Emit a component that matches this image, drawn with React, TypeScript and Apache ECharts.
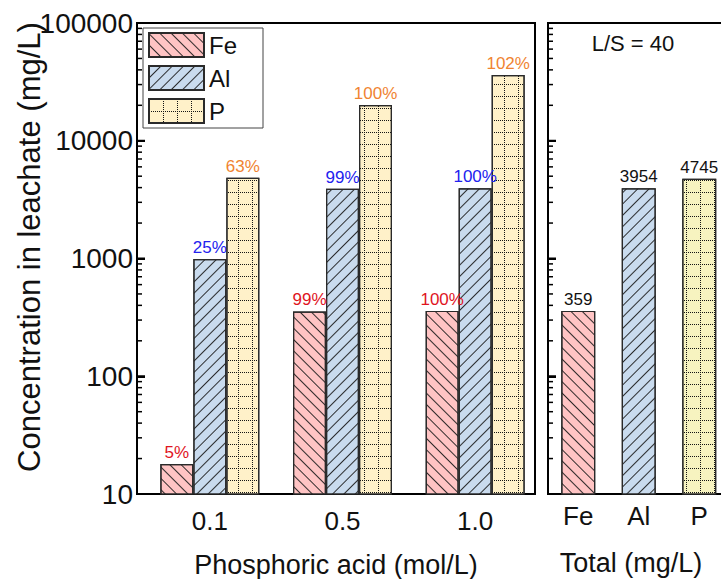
import React, { useEffect, useRef } from 'react';
import * as echarts from 'echarts';

// ---- data ----
const categories = ['0.1', '0.5', '1.0'];
const feValues = [18, 355, 359];
const alValues = [990, 3914, 3954];
const pValues = [4850, 20100, 36100];
const fePct = ['5%', '99%', '100%'];
const alPct = ['25%', '99%', '100%'];
const pPct = ['63%', '100%', '102%'];
const totalCategories = ['Fe', 'Al', 'P'];
const totalValues = [359, 3954, 4745];
const yMin = 10;
const yMax = 100000;
const majorTickValues = [10, 100, 1000, 10000, 100000];
const minorTickValues: number[] = [];
for (let d = 10; d < 100000; d *= 10) {
  for (let k = 2; k <= 9; k++) minorTickValues.push(k * d);
}

const FONT = '"Liberation Sans", Arial, Helvetica, sans-serif';

const feColor = '#FFC4C4';
const alColor = '#C9DBEE';
const pColor = '#FFF1C9';
const pTotalColor = '#F7F3C0';
const hatchColor = 'rgba(25,25,25,0.9)';

const feDecal = {
  symbol: 'rect', symbolSize: 1, color: hatchColor,
  dashArrayX: [1, 0], dashArrayY: [1, 7], rotation: Math.PI / 4,
};
const alDecal = {
  symbol: 'rect', symbolSize: 1, color: hatchColor,
  dashArrayX: [1, 0], dashArrayY: [1, 7], rotation: -Math.PI / 4,
};
const pDecal = {
  symbol: 'rect', symbolSize: 1, color: 'rgba(20,20,20,1)',
  dashArrayX: [[1, 1], [1, 13], [1, 13], [1, 13], [1, 13], [1, 13]],
  dashArrayY: [1, 1, 1, 1, 1, 1, 1, 1, 1, 1, 1, 1],
  rotation: 0,
};

const LEFT_BOX = { left: 137, top: 23, width: 398, height: 471 };
const RIGHT_BOX = { left: 548, top: 23, width: 181.5, height: 471 };

export default function App() {
  const ref = useRef<HTMLDivElement>(null);
  useEffect(() => {
    document.body.style.margin = '0';
    if (!ref.current) return;
    const chart = echarts.init(ref.current, undefined, { renderer: 'svg' });

    const border = { borderColor: '#2a2a2a', borderWidth: 1.2 };
    const mk = (name: string, data: number[], pct: string[], color: string, decal: any, labelColor: string) => ({
      type: 'bar', name, xAxisIndex: 1, yAxisIndex: 1, data,
      barWidth: 33, barGap: '0%',
      itemStyle: { color, decal, ...border },
      label: {
        show: true, position: 'top', distance: 3,
        formatter: (p: any) => pct[p.dataIndex],
        color: labelColor, fontSize: 17, fontFamily: FONT,
      },
    });

    // inward ticks of a log axis (major and minor), drawn through the axis' own scale
    const tickSeries = (xAxisIndex: number, yAxisIndex: number) => ({
      type: 'custom', name: 'ticks' + yAxisIndex, xAxisIndex, yAxisIndex,
      silent: true, clip: false, z: 10,
      data: [
        ...majorTickValues.map((v) => [0, v, 8]),
        ...minorTickValues.map((v) => [0, v, 5]),
      ],
      renderItem: (params: any, api: any) => {
        const pt = api.coord([0, api.value(1)]);
        const len = api.value(2);
        const x0 = params.coordSys.x;
        return {
          type: 'rect', z2: 100,
          shape: { x: x0, y: pt[1] - (len > 6 ? 1 : 0.75), width: len, height: len > 6 ? 2 : 1.5 },
          style: { fill: '#000' },
        };
      },
      tooltip: { show: false },
    });

    const logBase = { type: 'log', logBase: 10, min: yMin, max: yMax, splitLine: { show: false }, position: 'left' };
    const gb = { outerBoundsMode: 'none', containLabel: false };

    chart.setOption({
      animation: false,
      backgroundColor: '#fff',
      textStyle: { fontFamily: FONT },
      grid: [
        { ...LEFT_BOX, ...gb, show: true, borderColor: '#000', borderWidth: 2, backgroundColor: 'transparent' },
        { left: 143.5, top: 23, width: 398, height: 471, ...gb },
        { ...RIGHT_BOX, ...gb, show: true, borderColor: '#000', borderWidth: 2, backgroundColor: 'transparent' },
      ],
      xAxis: [
        {
          gridIndex: 0, type: 'category', data: categories,
          axisLine: { show: true, lineStyle: { color: '#000', width: 2 } },
          axisTick: { show: false }, axisLabel: { show: false },
          name: 'Phosphoric acid (mol/L)', nameLocation: 'middle', nameGap: 57,
          nameTextStyle: { fontSize: 27, color: '#111', fontFamily: FONT },
        },
        {
          gridIndex: 1, type: 'category', data: categories,
          axisLine: { show: false }, axisTick: { show: false },
          axisLabel: { fontSize: 26, color: '#111', margin: 14, fontFamily: FONT },
        },
        {
          gridIndex: 2, type: 'category', data: totalCategories,
          axisLine: { show: true, lineStyle: { color: '#000', width: 2 } },
          axisTick: { show: false },
          axisLabel: { fontSize: 26, color: '#111', margin: 9, fontFamily: FONT },
        },
      ],
      yAxis: [
        {
          ...logBase, gridIndex: 0,
          axisLine: { show: true, lineStyle: { color: '#000', width: 2 } },
          axisTick: { show: true, inside: true, length: 8, lineStyle: { color: '#000', width: 2 } },
          axisLabel: { fontSize: 28, color: '#111', margin: 4, fontFamily: FONT, formatter: (v: number) => String(Math.round(v)) },
        },
        { ...logBase, gridIndex: 1, show: false },
        {
          ...logBase, gridIndex: 2,
          axisLine: { show: true, lineStyle: { color: '#000', width: 2 } },
          axisTick: { show: true, inside: true, length: 8, lineStyle: { color: '#000', width: 2 } },
          axisLabel: { show: false },
        },
      ],
      legend: {
        data: ['Fe', 'Al', 'P'], orient: 'vertical', left: 143, top: 28,
        itemWidth: 55, itemHeight: 24, itemGap: 7, icon: 'rect',
        padding: [4, 26, 4, 5], borderColor: '#444', borderWidth: 1, backgroundColor: '#fff',
        textStyle: { fontSize: 24, color: '#111', fontFamily: FONT },
      },
      series: [
        mk('Fe', feValues, fePct, feColor, feDecal, '#E0141E'),
        mk('Al', alValues, alPct, alColor, alDecal, '#2222EE'),
        mk('P', pValues, pPct, pColor, pDecal, '#F08432'),
        {
          type: 'bar', name: 'Total', xAxisIndex: 2, yAxisIndex: 2, barWidth: 34,
          data: totalValues.map((v, i) => ({
            value: v,
            itemStyle: {
              color: [feColor, alColor, pTotalColor][i],
              decal: [feDecal, alDecal, pDecal][i],
            },
          })),
          itemStyle: { ...border },
          label: { show: true, position: 'top', distance: 3, color: '#111', fontSize: 17, fontFamily: FONT },
        },
        tickSeries(0, 0),
        tickSeries(2, 2),
      ],
      graphic: [
        {
          type: 'text', x: 29, y: 247, rotation: Math.PI / 2,
          style: { text: 'Concentration in leachate (mg/L)', fontSize: 31, fontFamily: FONT, fill: '#111', align: 'center', verticalAlign: 'middle' },
        },
        {
          type: 'text', x: 633, y: 43,
          style: { text: 'L/S = 40', fontSize: 22, fontFamily: FONT, fill: '#111', align: 'center', verticalAlign: 'middle' },
        },
        {
          type: 'text', x: 631, y: 563,
          style: { text: 'Total (mg/L)', fontSize: 27, fontFamily: FONT, fill: '#111', align: 'center', verticalAlign: 'middle' },
        },
      ],
    });

    return () => chart.dispose();
  }, []);
  return <div ref={ref} style={{ width: 721, height: 579 }} />;
}
